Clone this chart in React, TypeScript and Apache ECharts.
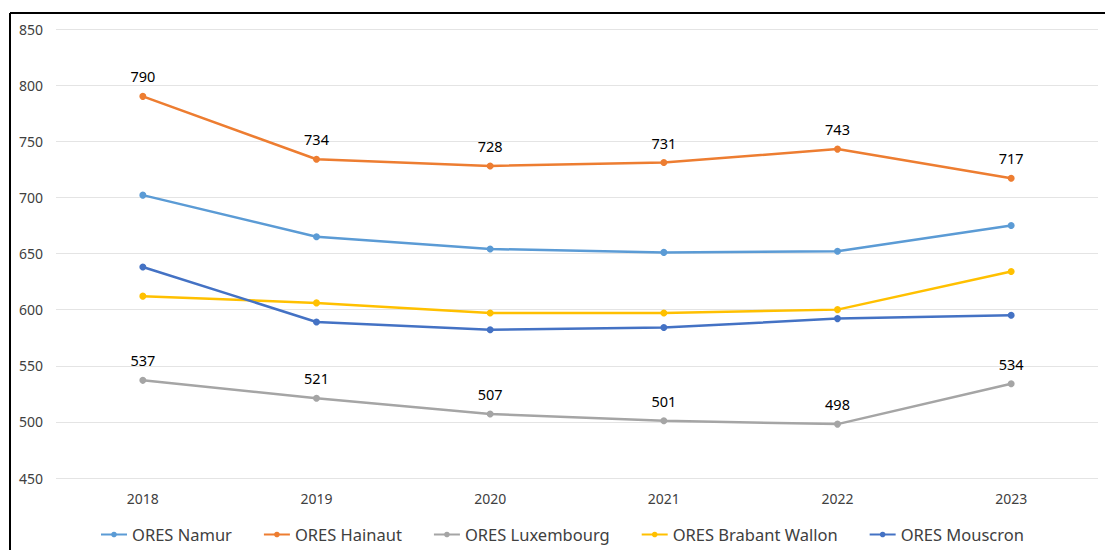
import React, { useEffect, useRef } from "react";
import * as echarts from "echarts";

const years = ["2018", "2019", "2020", "2021", "2022", "2023"];
const namur = [702, 665, 654, 651, 652, 675];
const hainaut = [790, 734, 728, 731, 743, 717];
const luxembourg = [537, 521, 507, 501, 498, 534];
const brabant = [612, 606, 597, 597, 600, 634];
const mouscron = [638, 589, 582, 584, 592, 595];

const FONT = "'Noto Sans', sans-serif";

export default function App() {
  const ref = useRef<HTMLDivElement>(null);
  useEffect(() => {
    if (!ref.current) return;
    const chart = echarts.init(ref.current, undefined, { renderer: "svg" });
    const mk = (name: string, data: number[], color: string, labels: boolean) => ({
      name,
      type: "line",
      data,
      symbol: "circle",
      symbolSize: 7,
      lineStyle: { width: 2.5, color },
      itemStyle: { color },
      label: labels
        ? { show: true, position: "top", distance: 9, color: "#000", fontSize: 14.5, fontFamily: FONT }
        : { show: false },
      emphasis: { disabled: true },
    });
    chart.setOption({
      animation: false,
      backgroundColor: "#fff",
      textStyle: { fontFamily: FONT },
      grid: { left: 56, right: 7, top: 29, bottom: 72, containLabel: false },
      xAxis: {
        type: "category",
        data: years,
        boundaryGap: true,
        axisLine: { show: false },
        axisTick: { show: false },
        axisLabel: { color: "#404040", fontSize: 14, margin: 13, fontFamily: FONT },
      },
      yAxis: {
        type: "value",
        min: 450,
        max: 850,
        interval: 50,
        axisLine: { show: false },
        axisTick: { show: false },
        axisLabel: { color: "#404040", fontSize: 14, margin: 13, fontFamily: FONT },
        splitLine: { lineStyle: { color: "#e4e4e4", width: 1 } },
      },
      legend: {
        top: 521,
        left: 95,
        itemWidth: 26,
        itemHeight: 7,
        itemGap: 31,
        textStyle: { color: "#404040", fontSize: 16.5, fontFamily: FONT },
        data: ["ORES Namur", "ORES Hainaut", "ORES Luxembourg", "ORES Brabant Wallon", "ORES Mouscron"],
      },
      graphic: [
        { type: "line", shape: { x1: 10, y1: 13, x2: 1105, y2: 13 }, style: { stroke: "#000", lineWidth: 2 } },
        { type: "line", shape: { x1: 10, y1: 13, x2: 10, y2: 550 }, style: { stroke: "#000", lineWidth: 2 } },
      ],
      series: [
        mk("ORES Namur", namur, "#5B9BD5", false),
        mk("ORES Hainaut", hainaut, "#ED7D31", true),
        mk("ORES Luxembourg", luxembourg, "#A5A5A5", true),
        mk("ORES Brabant Wallon", brabant, "#FFC000", false),
        mk("ORES Mouscron", mouscron, "#4472C4", false),
      ],
    });
    return () => chart.dispose();
  }, []);
  return (
    <div
      ref={ref}
      style={{ position: "fixed", left: 0, top: 0, width: 1105, height: 550 }}
    />
  );
}
